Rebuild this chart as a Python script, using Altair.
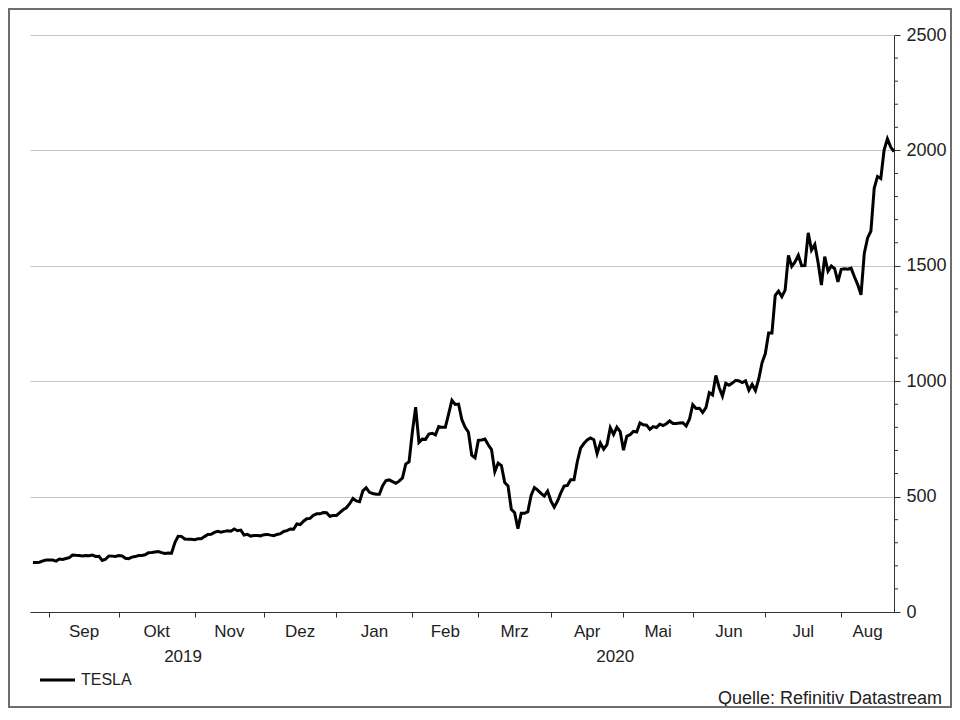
import altair as alt
import pandas as pd

# Tesla closing prices, one value per weekday (Datastream style: holidays repeat the prior value)
aug_2019 = [215.0, 214.1, 215.6, 221.7, 225.6]
sep_2019 = [225.6, 225.0, 220.7, 229.6, 227.5, 231.8, 235.5, 247.1, 245.9, 245.2, 242.8,
            244.8, 243.5, 246.6, 240.6, 241.2, 223.2, 228.7, 242.6, 242.1, 240.9]
oct_2019 = [244.7, 243.1, 233.0, 231.4, 237.7, 240.1, 244.5, 244.7, 247.9, 257.0, 257.9,
            259.8, 262.0, 257.0, 253.5, 255.6, 254.7, 299.7, 328.1, 327.7, 316.2, 315.0, 314.9]
nov_2019 = [313.3, 317.5, 317.2, 326.6, 335.5, 337.1, 345.1, 349.9, 346.1, 349.4, 352.2,
            350.0, 359.5, 352.2, 354.8, 333.0, 336.3, 328.9, 331.3, 331.3, 329.9]
dec_2019 = [334.9, 336.2, 333.0, 330.4, 335.9, 339.5, 348.8, 352.7, 359.7, 358.4, 381.5,
            379.0, 393.2, 404.0, 405.6, 419.2, 425.3, 425.3, 430.9, 430.4, 414.7, 418.3]
jan_2020 = [418.3, 430.3, 443.0, 451.5, 469.1, 492.1, 481.3, 478.2, 524.9, 537.9, 518.5,
            513.5, 510.5, 510.5, 547.2, 569.6, 572.2, 564.8, 558.0, 566.9, 581.0, 640.8, 650.6]
feb_2020 = [780.0, 887.1, 734.7, 749.0, 748.1, 771.3, 774.4, 767.3, 804.0, 800.0, 800.0,
            858.4, 917.4, 899.4, 901.0, 833.8, 799.9, 778.8, 679.0, 668.0]
mar_2020 = [743.6, 745.5, 749.5, 724.5, 703.5, 608.0, 645.3, 634.2, 560.6, 546.6, 445.1,
            430.2, 361.2, 427.6, 427.5, 434.3, 505.0, 539.3, 528.2, 514.4, 502.1, 524.0]
apr_2020 = [481.6, 454.5, 480.0, 516.2, 545.5, 548.8, 573.0, 573.0, 651.0, 709.9, 729.8,
            745.2, 753.9, 746.4, 686.7, 732.1, 705.6, 725.2, 798.8, 769.1, 800.5, 781.9]
may_2020 = [701.3, 761.2, 768.2, 782.6, 780.0, 819.4, 811.3, 809.4, 791.0, 803.3, 799.2,
            813.6, 808.0, 815.6, 827.6, 816.9, 816.9, 818.9, 820.2, 805.8, 835.0]
jun_2020 = [898.1, 881.6, 883.0, 864.4, 885.7, 949.9, 940.7, 1025.1, 972.8, 935.3, 990.9,
            982.1, 991.8, 1004.0, 1000.9, 994.3, 1001.8, 960.9, 986.0, 959.7, 1009.4, 1079.8]
jul_2020 = [1119.6, 1208.7, 1208.7, 1371.6, 1389.9, 1365.9, 1394.3, 1544.7, 1497.1, 1516.8,
            1546.0, 1500.6, 1500.8, 1643.0, 1568.4, 1592.3, 1513.1, 1417.0, 1539.6, 1476.5,
            1499.1, 1487.5, 1430.8]
aug_2020 = [1485.0, 1487.0, 1485.0, 1489.6, 1452.7, 1418.6, 1374.4, 1554.8, 1621.0, 1650.7,
            1835.6, 1887.1, 1878.5, 2001.8, 2050.0, 2014.2, 1995.0]

month_labels = ["Sep", "Okt", "Nov", "Dez", "Jan", "Feb", "Mrz", "Apr", "Mai", "Jun", "Jul", "Aug"]
month_start_idx = [5, 26, 49, 70, 92, 115, 135, 157, 179, 200, 222, 245]
year_labels = ["2019", "2020"]
year_first_idx = [0, 92]
y_major = [0, 500, 1000, 1500, 2000, 2500]
y_minor = [v for v in range(100, 2500, 100) if v % 500 != 0]
series_name = "TESLA"
source_text = "Quelle: Refinitiv Datastream"

prices = (aug_2019 + sep_2019 + oct_2019 + nov_2019 + dec_2019 + jan_2020 + feb_2020
          + mar_2020 + apr_2020 + may_2020 + jun_2020 + jul_2020 + aug_2020)
last_idx = len(prices) - 1

df = pd.DataFrame({"i": list(range(len(prices))), "p": prices})

ends = month_start_idx[1:] + [last_idx]
df_months = pd.DataFrame({
    "label": month_labels,
    "mid": [(a + b) / 2 for a, b in zip(month_start_idx, ends)],
})
year_ends = [year_first_idx[1] - 1, last_idx]
df_years = pd.DataFrame({
    "label": year_labels,
    "mid": [(a + b) / 2 for a, b in zip(year_first_idx, year_ends)],
})
df_minor = pd.DataFrame({"v": y_minor})

W, H = 864, 577
PAD = {"left": 22, "top": 27, "right": 58, "bottom": 96}
FONT = "Liberation Sans"
TXT = "#222222"

xs = alt.Scale(domain=[-0.9, last_idx], nice=False, zero=False)
ys = alt.Scale(domain=[0, 2500], nice=False, zero=False)

x_axis = alt.Axis(
    values=month_start_idx, labels=False, title=None, grid=False,
    tickSize=5, tickColor="#333333", domainColor="#333333", zindex=1)
y_axis = alt.Axis(
    orient="right", values=y_major, format="d", title=None,
    grid=True, gridColor="#c4c4c4", gridWidth=1,
    tickSize=6, tickColor="#333333", domainColor="#333333",
    labelFont=FONT, labelFontSize=18, labelColor=TXT, labelPadding=6,
    labelAlign="left", labelBaseline="middle")

line = alt.Chart(df).mark_line(color="black", strokeWidth=3).encode(
    x=alt.X("i:Q", scale=xs, axis=x_axis),
    y=alt.Y("p:Q", scale=ys, axis=y_axis),
)

minor = alt.Chart(df_minor).mark_rule(color="#333333", strokeWidth=1).encode(
    y=alt.Y("v:Q", scale=ys, axis=y_axis),
    x=alt.value(W),
    x2=alt.value(W + 4),
)

months = alt.Chart(df_months).mark_text(
    font=FONT, fontSize=17, color=TXT, align="center", baseline="middle"
).encode(
    x=alt.X("mid:Q", scale=xs, axis=x_axis),
    y=alt.value(597),
    text="label:N",
)

years = alt.Chart(df_years).mark_text(
    font=FONT, fontSize=17, color=TXT, align="center", baseline="middle"
).encode(
    x=alt.X("mid:Q", scale=xs, axis=x_axis),
    y=alt.value(622),
    text="label:N",
)

legend_line = alt.Chart(pd.DataFrame({"s": [series_name]})).mark_rule(
    color="black", strokeWidth=3
).encode(x=alt.value(10), x2=alt.value(45), y=alt.value(645))

legend_text = alt.Chart(pd.DataFrame({"s": [series_name]})).mark_text(
    font=FONT, fontSize=16, color=TXT, align="left", baseline="middle"
).encode(x=alt.value(51), y=alt.value(645), text="s:N")

source = alt.Chart(pd.DataFrame({"s": [source_text]})).mark_text(
    font=FONT, fontSize=18, color=TXT, align="right", baseline="alphabetic"
).encode(x=alt.value(W + 48), y=alt.value(H + 92), text="s:N")

frame = alt.Chart(pd.DataFrame({"s": [source_text]})).mark_rect(
    fill="transparent", stroke="#6e6e6e", strokeWidth=2
).encode(
    x=alt.value(-PAD["left"] + 1), x2=alt.value(W + PAD["right"] - 1),
    y=alt.value(-PAD["top"] + 1), y2=alt.value(H + PAD["bottom"] - 1),
)

chart = alt.layer(
    line, minor, months, years, legend_line, legend_text, source, frame
).properties(
    width=W, height=H, padding=PAD, autosize="none", background="white"
).configure_view(strokeWidth=0)

chart.save("out.html", embed_options={"renderer": "svg", "actions": False})
